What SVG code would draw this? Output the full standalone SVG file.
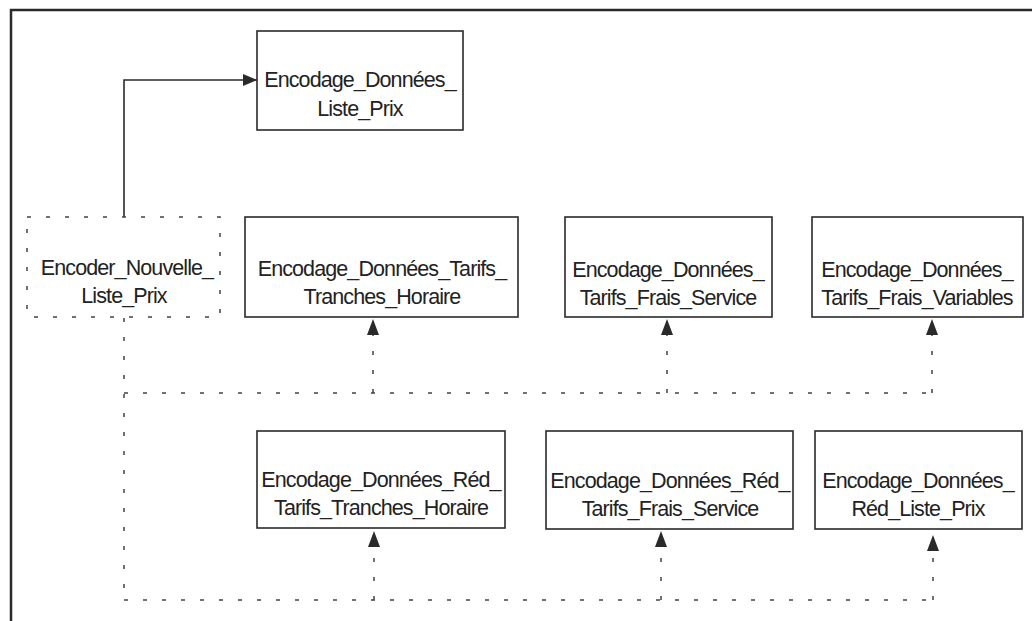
<svg xmlns="http://www.w3.org/2000/svg" width="1032" height="621" viewBox="0 0 1032 621">
  <style>
    .frame { fill: none; stroke: #2a2a2a; stroke-width: 2.5; }
    .box { fill: none; stroke: #2a2a2a; stroke-width: 1.6; }
    .dbox { fill: none; stroke: #444; stroke-width: 1.5; stroke-dasharray: 4 15; }
    .lbl { font-family: "Liberation Sans", Arial, sans-serif; font-size: 21.5px; letter-spacing: -0.9px; fill: #222; text-anchor: middle; }
    .solid { fill: none; stroke: #2a2a2a; stroke-width: 1.6; }
    .dot { fill: none; stroke: #444; stroke-width: 1.5; stroke-dasharray: 4 15; }
  </style>
  <defs>
    <marker id="arr" viewBox="0 0 14 12" refX="14" refY="6" markerWidth="14" markerHeight="12" markerUnits="userSpaceOnUse" orient="auto">
      <path d="M0,0 L14,6 L0,12 z" fill="#2a2a2a"/>
    </marker>
    <marker id="arrUp" viewBox="0 0 16 12" refX="16" refY="6" markerWidth="16" markerHeight="12" markerUnits="userSpaceOnUse" orient="auto">
      <path d="M0,0 L16,6 L0,12 z" fill="#2a2a2a"/>
    </marker>
  </defs>
  <rect width="1032" height="621" fill="#ffffff"/>
  <path class="frame" d="M11,640 L11,10 L1045,10"/>

  <g id="connectors">
    <path class="solid" d="M124,217 L124,80 L257,80" marker-end="url(#arr)"/>
    <path class="dot" d="M124,318 L124,600"/>
    <path class="dot" d="M124,393 L932,393"/>
    <path class="dot" d="M373,393 L373,319" marker-end="url(#arrUp)"/>
    <path class="dot" d="M667,393 L667,319" marker-end="url(#arrUp)"/>
    <path class="dot" d="M932,393 L932,319" marker-end="url(#arrUp)"/>
    <path class="dot" d="M124,600 L933,600"/>
    <path class="dot" d="M374,600 L374,531" marker-end="url(#arrUp)"/>
    <path class="dot" d="M661,600 L661,531" marker-end="url(#arrUp)"/>
    <path class="dot" d="M933,600 L933,535" marker-end="url(#arrUp)"/>
  </g>

  <g id="node-liste-prix">
    <rect class="box" x="257" y="31" width="206" height="99"/>
    <text class="lbl" x="360" y="87">Encodage_Données_</text>
    <text class="lbl" x="360" y="116">Liste_Prix</text>
  </g>
  <g id="node-encoder-nouvelle">
    <rect class="dbox" x="27" y="217" width="193" height="100"/>
    <text class="lbl" x="127" y="275">Encoder_Nouvelle_</text>
    <text class="lbl" x="124" y="303">Liste_Prix</text>
  </g>
  <g id="node-tarifs-tranches">
    <rect class="box" x="245" y="217" width="273" height="100"/>
    <text class="lbl" x="382" y="276">Encodage_Données_Tarifs_</text>
    <text class="lbl" x="382" y="304">Tranches_Horaire</text>
  </g>
  <g id="node-tarifs-service">
    <rect class="box" x="565" y="217" width="207" height="100"/>
    <text class="lbl" x="668" y="277">Encodage_Données_</text>
    <text class="lbl" x="668" y="305">Tarifs_Frais_Service</text>
  </g>
  <g id="node-tarifs-variables">
    <rect class="box" x="812" y="217" width="211" height="100"/>
    <text class="lbl" x="917" y="277">Encodage_Données_</text>
    <text class="lbl" x="917" y="305">Tarifs_Frais_Variables</text>
  </g>
  <g id="node-red-tranches">
    <rect class="box" x="257" y="431" width="248" height="97"/>
    <text class="lbl" x="381" y="487">Encodage_Données_Réd_</text>
    <text class="lbl" x="381" y="515">Tarifs_Tranches_Horaire</text>
  </g>
  <g id="node-red-service">
    <rect class="box" x="546" y="431" width="247" height="98"/>
    <text class="lbl" x="670" y="488">Encodage_Données_Réd_</text>
    <text class="lbl" x="670" y="516">Tarifs_Frais_Service</text>
  </g>
  <g id="node-red-liste">
    <rect class="box" x="815" y="431" width="207" height="98"/>
    <text class="lbl" x="918" y="488">Encodage_Données_</text>
    <text class="lbl" x="918" y="516">Réd_Liste_Prix</text>
  </g>
</svg>
